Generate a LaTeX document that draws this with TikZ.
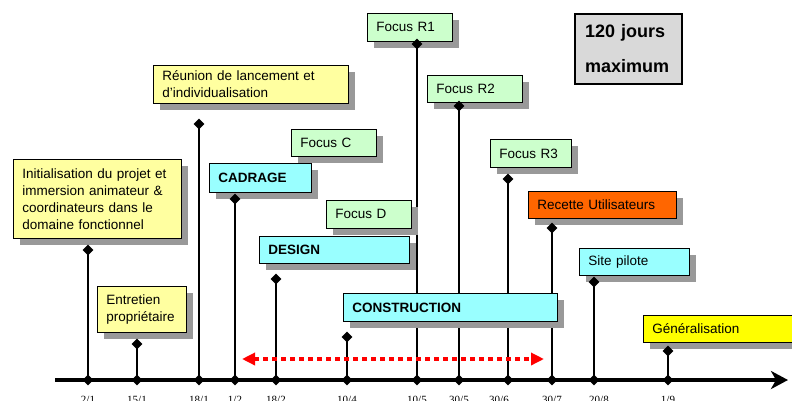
\documentclass[tikz,border=0pt]{standalone}
\usepackage{fontspec}
\setmainfont{Liberation Sans}
\newfontfamily\datefont{Liberation Serif}
\usetikzlibrary{shapes.geometric,shadows,arrows.meta}
\definecolor{lyel}{HTML}{FFFFA0}
\definecolor{lgreen}{HTML}{CCFFCC}
\definecolor{lcyan}{HTML}{99FFFF}
\definecolor{orng}{HTML}{FF6600}
\definecolor{yel}{HTML}{FFFF00}
\definecolor{lgray}{HTML}{D9D9D9}
\definecolor{shgray}{HTML}{999999}
\tikzset{
  box/.style={draw=black, line width=0.8pt, anchor=north west, inner xsep=9pt, inner ysep=0pt,
    align=left, font=\fontsize{13.5}{17}\selectfont,
    drop shadow={shadow xshift=7pt, shadow yshift=-7pt, fill=shgray, opacity=1, draw=none}},
  bbox/.style={box, font=\fontsize{13.5}{17}\selectfont\bfseries},
  dia/.style={diamond, fill=black, draw=none, inner sep=0pt, minimum size=11pt},
  thickstem/.style={line width=2.9pt},
  thinstem/.style={line width=1.7pt},
  axis/.style={line width=4pt, -{Stealth[length=17pt,width=18pt,inset=5pt]}},
  redarr/.style={red, line width=4pt, dash pattern=on 5pt off 4pt, {Triangle[length=13pt,width=12pt]}-{Triangle[length=13pt,width=12pt]}},
  datelbl/.style={anchor=base, inner sep=0pt, font=\datefont\fontsize{11}{11}\selectfont}
}
\begin{document}
\begin{tikzpicture}[x=1pt,y=-1pt]
\useasboundingbox[fill=white] (0,0) rectangle (792,400);
% axis
\coordinate (axs) at (55,380);
\coordinate (axe) at (788,380);
\draw[axis] (axs) -- (axe);
% axis ticks
\node[dia] (a1) at (88,380) {};
\node[dia] (a2) at (137,380) {};
\node[dia] (a3) at (199,380) {};
\node[dia] (a4) at (235,380) {};
\node[dia] (a5) at (276,380) {};
\node[dia] (a6) at (347,380) {};
\node[dia] (a7) at (417,380) {};
\node[dia] (a8) at (459,380) {};
\node[dia] (a9) at (508,380) {};
\node[dia] (a10) at (552,380) {};
\node[dia] (a11) at (594,380) {};
\node[dia] (a12) at (668,380) {};
% stem top positions
\coordinate (d1) at (88,250);
\coordinate (d2) at (137,344);
\coordinate (d3) at (199,124);
\coordinate (d4) at (235,199);
\coordinate (d5) at (276,279);
\coordinate (d6) at (347,337);
\coordinate (d7) at (417,44);
\coordinate (d8) at (459,106);
\coordinate (d9) at (508,179);
\coordinate (d10) at (552,228);
\coordinate (d11) at (594,282);
\coordinate (d12) at (668,351);
% stems
\draw[thickstem] (a1.center) -- (d1);
\draw[thickstem] (a2.center) -- (d2);
\draw[thickstem] (a3.center) -- (d3);
\draw[thinstem] (a4.center) -- (d4);
\draw[thickstem] (a5.center) -- (d5);
\draw[thickstem] (a6.center) -- (d6);
\draw[thinstem] (a7.center) -- (d7);
\draw[thickstem] (a8.center) -- (d8);
\draw[thickstem] (a9.center) -- (d9);
\draw[thinstem] (a10.center) -- (d10);
\draw[thinstem] (a11.center) -- (d11);
\draw[thickstem] (a12.center) -- (d12);
% red arrow
\coordinate (rl) at (242,359);
\coordinate (rr) at (544,359);
\draw[redarr] (rl) -- (rr);
% boxes
\node[box, fill=lyel, text width=150pt, minimum height=79pt] (init) at (13,159)
  {Initialisation du projet et\\immersion animateur \&\\coordinateurs dans le\\domaine fonctionnel};
\node[box, fill=lyel, text width=71pt, minimum height=46pt] (entr) at (97,286)
  {Entretien\\propriétaire};
\node[box, fill=lyel, text width=177pt, minimum height=38pt] (reun) at (153,65)
  {Réunion de lancement et\\d'individualisation};
\node[box, fill=lgreen, text width=67pt, minimum height=27pt] (fc) at (291,129) {Focus C};
\node[bbox, fill=lcyan, text width=84pt, minimum height=29pt] (cad) at (209,163) {CADRAGE};
\node[box, fill=lgreen, text width=67pt, minimum height=28pt] (fd) at (326,200) {Focus D};
\node[bbox, fill=lcyan, text width=132pt, minimum height=27pt] (des) at (259,236) {DESIGN};
\node[bbox, fill=lcyan, text width=196pt, minimum height=28pt] (cons) at (343,293) {CONSTRUCTION};
\node[box, fill=lgreen, text width=67pt, minimum height=28pt] (r1) at (367,13) {Focus R1};
\node[box, fill=lgreen, text width=77pt, minimum height=27pt] (r2) at (427,75) {Focus R2};
\node[box, fill=lgreen, text width=63pt, minimum height=28pt] (r3) at (490,139) {Focus R3};
\node[box, fill=orng, text width=130pt, minimum height=27pt] (rec) at (528,191) {Recette Utilisateurs};
\node[box, fill=lcyan, text width=92pt, minimum height=27pt] (site) at (579,248) {Site pilote};
\node[box, fill=yel, text width=134pt, minimum height=27pt] (gen) at (643,315) {Généralisation};
\node[draw=black, line width=2pt, fill=lgray, anchor=north west, inner xsep=10pt, inner ysep=0pt,
  text width=87pt, minimum height=70pt, align=left, font=\fontsize{18}{35}\selectfont\bfseries]
  (max) at (574,13) {120 jours\\maximum};
% stem diamonds on top
\foreach \d in {d1,d2,d3,d4,d5,d6,d7,d8,d9,d10,d11,d12}{\node[dia] at (\d) {};}
% date labels (cut off at the lower edge, as in the reference)
\node[datelbl] (l1) at (88,403) {2/1};
\node[datelbl] (l2) at (137,403) {15/1};
\node[datelbl] (l3) at (199,403) {18/1};
\node[datelbl] (l4) at (235,403) {1/2};
\node[datelbl] (l5) at (276,403) {18/2};
\node[datelbl] (l6) at (347,403) {10/4};
\node[datelbl] (l7) at (417,403) {10/5};
\node[datelbl] (l8) at (459,403) {30/5};
\node[datelbl] (l9) at (499,403) {30/6};
\node[datelbl] (l10) at (552,403) {30/7};
\node[datelbl] (l11) at (599,403) {20/8};
\node[datelbl] (l12) at (668,403) {1/9};
\end{tikzpicture}
\end{document}
